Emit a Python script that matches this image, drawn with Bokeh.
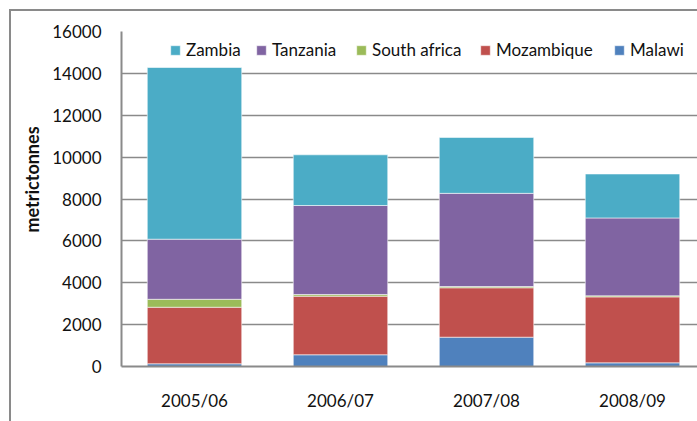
import math
from bokeh.plotting import figure
from bokeh.models import (Range1d, FixedTicker, Legend, LegendItem, Title,
                          ColumnDataSource)
from bokeh.embed import file_html
from bokeh.resources import INLINE

# ---- data (metric tonnes) ----
seasons = ["2005/06", "2006/07", "2007/08", "2008/09"]
malawi = [130, 560, 1400, 175]
mozambique = [2700, 2800, 2360, 3150]
south_africa = [380, 80, 60, 50]
tanzania = [2870, 4250, 4450, 3720]
zambia = [8200, 2420, 2670, 2100]
y_ticks = [0, 2000, 4000, 6000, 8000, 10000, 12000, 14000, 16000]

series = ["Malawi", "Mozambique", "South africa", "Tanzania", "Zambia"]
colors = ["#4F81BD", "#C0504D", "#9BBB59", "#8064A2", "#4BACC6"]

pos = [i + 0.5 for i in range(len(seasons))]
src = ColumnDataSource(dict(x=pos, Malawi=malawi, Mozambique=mozambique,
                            **{"South africa": south_africa},
                            Tanzania=tanzania, Zambia=zambia))

FONT = "Lato"
GRAY = "#8a8a8a"

p = figure(frame_width=576, frame_height=335, output_backend="svg",
           toolbar_location=None,
           x_range=Range1d(0, 3.945), y_range=Range1d(0, 16000),
           min_border_left=110, min_border_top=20, min_border_bottom=55,
           min_border_right=0)
p.styles = {"margin-left": "9px", "margin-top": "9px",
            "border-left": "2px solid " + GRAY, "border-top": "2px solid " + GRAY}
p.outline_line_color = None

rs = p.vbar_stack(series, x="x", width=0.647, source=src, color=colors,
                  line_color="white", line_width=0.8, line_alpha=0.7)

# axes
p.yaxis.ticker = FixedTicker(ticks=y_ticks)
p.xaxis.ticker = FixedTicker(ticks=pos)
p.xaxis.major_label_overrides = {pos[i]: seasons[i] for i in range(len(seasons))}
for ax in (p.xaxis[0], p.yaxis[0]):
    ax.axis_line_color = GRAY
    ax.axis_line_width = 2
    ax.major_tick_line_color = None
    ax.minor_tick_line_color = None
    ax.major_label_text_font = FONT
    ax.major_label_text_font_size = "17px"
    ax.major_label_text_color = "#111111"
p.yaxis.major_label_standoff = 14
p.xaxis.major_label_standoff = 17
p.xgrid.grid_line_color = None
p.ygrid.grid_line_color = GRAY
p.ygrid.grid_line_width = 1.6

# y axis title
p.add_layout(Title(text="metrictonnes", align="left", offset=134, standoff=14,
                   text_font=FONT, text_font_style="bold",
                   text_font_size="18px", text_color="#111111"), "left")

# legend entries (reverse order), one per position
leg_x = [48, 134, 234, 358, 492]
for k, i in enumerate(range(4, -1, -1)):
    lg = Legend(items=[LegendItem(label=series[i], renderers=[rs[i]])],
                location=(leg_x[k], 306),
                glyph_width=12, glyph_height=12, label_standoff=5,
                padding=0, margin=0, border_line_color=None,
                background_fill_alpha=0, label_text_font=FONT,
                label_text_font_size="17px", label_text_color="#111111")
    p.add_layout(lg)

open("out.html", "w").write(file_html(p, INLINE))
